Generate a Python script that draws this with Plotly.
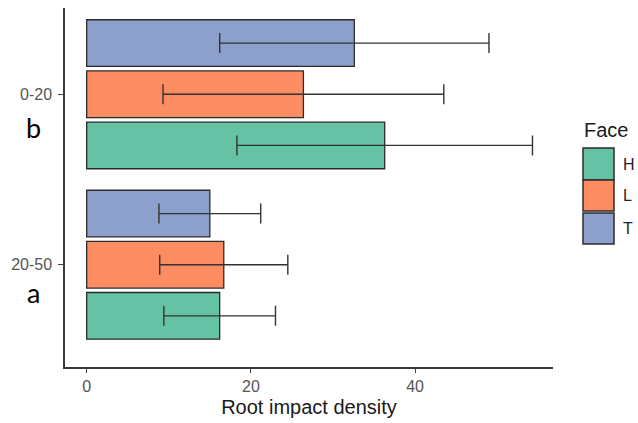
import plotly.graph_objects as go

# ---- data ----
depths = ["20-50", "0-20"]          # bottom to top
faces = ["H", "L", "T"]
face_colors = ["#66C2A5", "#FC8D62", "#8DA0CB"]
mean_H = [16.2, 36.3]
mean_L = [16.7, 26.4]
mean_T = [15.0, 32.6]
err_H = [6.8, 18.0]
err_L = [7.8, 17.1]
err_T = [6.2, 16.4]
sig_letters = ["a", "b"]            # per depth
x_ticks = [0, 20, 40]
x_title = "Root impact density"
legend_title = "Face"

means = [mean_H, mean_L, mean_T]
errs = [err_H, err_L, err_T]

W, H = 638, 423
ML, MR, MT, MB = 65, 85, 8, 56
PW, PH = W - ML - MR, H - MT - MB


def px(x):
    return (x - ML) / PW


def py(y):
    return (H - MB - y) / PH


fig = go.Figure()
for f, c, m, e in zip(faces, face_colors, means, errs):
    fig.add_trace(go.Bar(
        y=depths, x=m, name=f, orientation="h",
        marker=dict(color=c, line=dict(color="#2b2b2b", width=1.3)),
        error_x=dict(type="data", array=e, visible=True, color="#333333",
                     thickness=1.4, width=10),
        showlegend=False,
    ))

fig.update_layout(
    width=W, height=H,
    margin=dict(l=ML, r=MR, t=MT, b=MB, autoexpand=False),
    plot_bgcolor="white", paper_bgcolor="white",
    barmode="group", bargap=0.1, bargroupgap=0.087,
    font=dict(family="Liberation Sans, Arial, sans-serif", color="#222222"),
)
fig.update_xaxes(
    range=[-2.64, 56.8], tickvals=x_ticks, ticktext=[str(t) for t in x_ticks],
    showline=True, linecolor="#3a3a3a", linewidth=1.5, mirror=False,
    ticks="outside", ticklen=4, tickcolor="#444444", tickwidth=1.2,
    tickfont=dict(size=16, color="#555555"), showgrid=False, zeroline=False,
    title=dict(text=x_title, font=dict(size=20, color="#1a1a1a"), standoff=6),
)
fig.update_yaxes(
    type="category", categoryorder="array", categoryarray=depths,
    range=[-0.6, 1.506],
    showline=True, linecolor="#3a3a3a", linewidth=1.5,
    ticks="outside", ticklen=5, tickcolor="#444444", tickwidth=1.2,
    tickfont=dict(size=16, color="#555555"), showgrid=False, zeroline=False,
    ticklabelstandoff=3,
)

# significance letters
for letter, ypix in zip(sig_letters, [292, 127]):
    fig.add_annotation(text=letter, xref="paper", yref="paper",
                       x=px(33), y=py(ypix), xanchor="center", yanchor="middle",
                       showarrow=False, font=dict(family="Lato, sans-serif", size=27, color="black"))

# legend (drawn manually to match large key boxes)
fig.add_annotation(text=legend_title, xref="paper", yref="paper", x=px(582), y=py(130),
                   xanchor="left", yanchor="middle", showarrow=False,
                   font=dict(size=20, color="#1a1a1a"))
key_boxes = [(148, 180), (180, 211), (213, 244)]
for f, c, (y0, y1) in zip(faces, face_colors, key_boxes):
    fig.add_shape(type="rect", xref="paper", yref="paper",
                  x0=px(583), x1=px(614), y0=py(y1), y1=py(y0),
                  fillcolor=c, line=dict(color="#2b2b2b", width=1.5))
    fig.add_annotation(text=f, xref="paper", yref="paper", x=px(621), y=py((y0 + y1) / 2),
                       xanchor="left", yanchor="middle", showarrow=False,
                       font=dict(size=16, color="#222222"))

fig.write_html("out.html", config={"displayModeBar": False},
               post_script="document.body.style.margin='0';document.body.style.overflow='hidden';")
